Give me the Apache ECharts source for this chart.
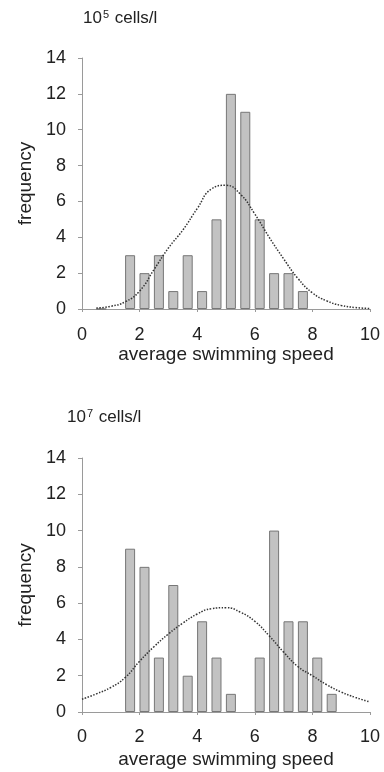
<!DOCTYPE html>
<html>
<head>
<meta charset="utf-8">
<script src="https://cdn.jsdelivr.net/npm/echarts@6/dist/echarts.min.js"></script>
<style>
  html, body { margin: 0; padding: 0; background: #fff; }
  #chart { width: 384px; height: 772px; }
</style>
</head>
<body>
<div id="chart"></div>
<script>
// bin centres (average swimming speed)
const speedsTop = [0.67, 1.67, 2.17, 2.67, 3.17, 3.67, 4.17, 4.67, 5.17, 5.67, 6.17, 6.67, 7.17, 7.67];
const freqTop = [0, 3, 2, 3, 1, 3, 1, 5, 12, 11, 5, 2, 2, 1];

const speedsBottom = [1.67, 2.17, 2.67, 3.17, 3.67, 4.17, 4.67, 5.17, 6.17, 6.67, 7.17, 7.67, 8.17, 8.67];
const freqBottom = [9, 8, 3, 7, 2, 5, 3, 1, 3, 10, 5, 5, 3, 1];

// fitted curves
const curveXTop = [0.5, 1, 1.5, 2, 2.5, 3, 3.5, 4, 4.5, 5, 5.5, 6, 6.5, 7, 7.5, 8, 8.5, 9, 9.5, 10];
const curveYTop = [0.05, 0.15, 0.4, 1.0, 2.2, 3.4, 4.4, 5.6, 6.7, 6.9, 6.4, 5.3, 4.0, 2.8, 1.7, 0.9, 0.45, 0.2, 0.08, 0.03];

const curveXBottom = [0, 0.5, 1, 1.5, 2, 2.5, 3, 3.5, 4, 4.5, 5, 5.5, 6, 6.5, 7, 7.5, 8, 8.5, 9, 9.5, 10];
const curveYBottom = [0.7, 1.0, 1.35, 1.9, 2.8, 3.6, 4.3, 4.9, 5.4, 5.7, 5.75, 5.5, 5.0, 4.2, 3.3, 2.5, 2.0, 1.5, 1.1, 0.8, 0.55];

const xTicks = [0, 2, 4, 6, 8, 10];
const yTicks = [0, 2, 4, 6, 8, 10, 12, 14];

const font = 'Liberation Sans, Arial, sans-serif';
const txt = '#222';
const axisCol = '#9a9a9a';

const zip = (xs, ys) => xs.map((x, i) => [x, ys[i]]);

function xAxis(idx, labelMargin, nameGap) {
  return {
    type: 'value', gridIndex: idx,
    min: xTicks[0], max: xTicks[xTicks.length - 1], interval: 2,
    name: 'average swimming speed', nameLocation: 'middle', nameGap: nameGap,
    nameTextStyle: { fontFamily: font, fontSize: 19, color: txt },
    axisLine: { lineStyle: { color: axisCol, width: 1 } },
    axisTick: { show: true, length: 3, lineStyle: { color: axisCol } },
    axisLabel: { fontFamily: font, fontSize: 18, color: txt, margin: labelMargin },
    splitLine: { show: false }
  };
}

function yAxis(idx) {
  return {
    type: 'value', gridIndex: idx,
    min: yTicks[0], max: yTicks[yTicks.length - 1], interval: 2,
    name: 'frequency', nameLocation: 'middle', nameGap: 47,
    nameTextStyle: { fontFamily: font, fontSize: 19, color: txt },
    axisLine: { show: true, lineStyle: { color: axisCol, width: 1 } },
    axisTick: { show: true, length: 4, lineStyle: { color: axisCol } },
    axisLabel: { fontFamily: font, fontSize: 18, color: txt, margin: 16 },
    splitLine: { show: false }
  };
}

function titleText(left, top, exp) {
  return {
    left: left, top: top,
    text: '{a|10}{s|' + exp + '}{a| cells/l}',
    textStyle: {
      fontWeight: 'normal',
      rich: {
        a: { fontFamily: font, fontSize: 17, color: txt, fontWeight: 'normal' },
        s: { fontFamily: font, fontSize: 11, color: txt, fontWeight: 'normal', verticalAlign: 'top', padding: [0, 1, 8, 1] }
      }
    }
  };
}

const barStyle = { color: '#c2c2c2', borderColor: '#777', borderWidth: 1 };
const curveStyle = { color: '#333', width: 1.5, type: 'dotted' };

const chart = echarts.init(document.getElementById('chart'));
chart.setOption({
  animation: false,
  title: [titleText(78, 4, '5'), titleText(62, 403, '7')],
  grid: [
    { left: 82, top: 58, width: 288, height: 251 },
    { left: 82, top: 458, width: 288, height: 254 }
  ],
  xAxis: [xAxis(0, 17, 32), xAxis(1, 16, 38)],
  yAxis: [yAxis(0), yAxis(1)],
  series: [
    {
      type: 'bar', xAxisIndex: 0, yAxisIndex: 0, barWidth: 10,
      itemStyle: barStyle, data: zip(speedsTop, freqTop)
    },
    {
      type: 'line', xAxisIndex: 0, yAxisIndex: 0, smooth: true, showSymbol: false,
      lineStyle: curveStyle, data: zip(curveXTop, curveYTop), z: 3
    },
    {
      type: 'bar', xAxisIndex: 1, yAxisIndex: 1, barWidth: 10,
      itemStyle: barStyle, data: zip(speedsBottom, freqBottom)
    },
    {
      type: 'line', xAxisIndex: 1, yAxisIndex: 1, smooth: true, showSymbol: false,
      lineStyle: curveStyle, data: zip(curveXBottom, curveYBottom), z: 3
    }
  ]
});
</script>
</body>
</html>
